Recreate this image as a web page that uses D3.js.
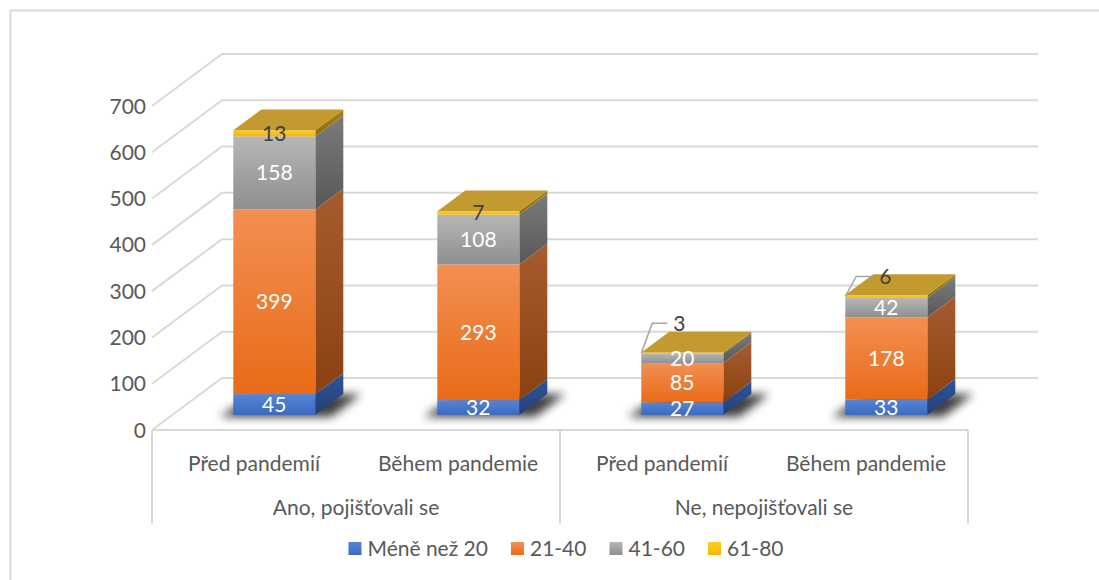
<!DOCTYPE html>
<html>
<head>
<meta charset="utf-8">
<script src="https://cdn.jsdelivr.net/npm/d3@7"></script>
<style>
    body { margin: 0; background: #fff; }
    svg { display: block; font-family: Lato, "Noto Sans", sans-serif; }
</style>
</head>
<body>
<div class="chart"></div>
<script>
// data
const categories = ["Před pandemií", "Během pandemie", "Před pandemií", "Během pandemie"];
const groups = ["Ano, pojišťovali se", "Ne, nepojišťovali se"];
const seriesNames = ["Méně než 20", "21-40", "41-60", "61-80"];
const under20 = [45, 32, 27, 33];
const age21to40 = [399, 293, 85, 178];
const age41to60 = [158, 108, 20, 42];
const age61to80 = [13, 7, 3, 6];
const yTicks = [0, 100, 200, 300, 400, 500, 600, 700];

const widthMax = 1099;
const heightMax = 580;

// 3d look
const DX = 70, DY = 52;      // floor depth offset
const F1 = 0.29, F2 = 0.69;  // bar front / back depth
const fontSize = 21;

const colors = [
    { front: ["#5585d8", "#3c69bd"], side: ["#30559a", "#243f76"] },
    { front: ["#f38f52", "#e86b18"], side: ["#a65c2e", "#8b4112"] },
    { front: ["#b6b6b6", "#8f8f8f"], side: ["#7b7b7b", "#585858"] },
    { front: ["#ffca2a", "#f5b800"], side: ["#a88412", "#8e6c08"] },
];
const topColor = "#c39a2f";

const table = categories.map((c, i) => ({
    idx: i,
    s0: under20[i], s1: age21to40[i], s2: age41to60[i], s3: age61to80[i]
}));
const stacked = d3.stack().keys(["s0", "s1", "s2", "s3"])(table);

const y = d3.scaleLinear().domain([0, 700]).range([430, 106]);
const x = d3.scaleBand().domain(d3.range(categories.length))
            .range([152, 968]).paddingInner(0.598).paddingOuter(0.299);
const bw = x.bandwidth();

function pt(xf, v, f) {
    return [xf + f * DX, y(v) - f * DY];
}
function poly(pts) {
    return pts.map(p => p[0] + "," + p[1]).join(" ");
}

const svg = d3.select(".chart").append("svg")
    .attr("width", widthMax)
    .attr("height", heightMax);

const defs = svg.append("defs");
colors.forEach((c, i) => {
    ["front", "side"].forEach(k => {
        const g = defs.append("linearGradient")
            .attr("id", k + i)
            .attr("x1", 0).attr("y1", 0).attr("x2", 0).attr("y2", 1);
        g.append("stop").attr("offset", "0%").attr("stop-color", c[k][0]);
        g.append("stop").attr("offset", "100%").attr("stop-color", c[k][1]);
    });
});
defs.append("filter").attr("id", "blur")
    .attr("x", "-50%").attr("y", "-100%").attr("width", "200%").attr("height", "300%")
    .append("feGaussianBlur").attr("stdDeviation", 5);

// outer border
svg.append("rect")
    .attr("x", 10.5).attr("y", 10.5)
    .attr("width", widthMax).attr("height", heightMax)
    .attr("fill", "none").attr("stroke", "#d9d9d9").attr("stroke-width", 2);

// gridlines (left wall + back wall)
svg.append("g").selectAll("path")
    .data(yTicks)
    .enter().append("path")
    .attr("d", t => {
        const a = pt(152, t, 0), b = pt(152, t, 1);
        return "M" + a + "L" + b + "L1038," + b[1];
    })
    .attr("fill", "none")
    .attr("stroke", "#d9d9d9")
    .attr("stroke-width", 2);

// y tick labels
svg.append("g").selectAll("text")
    .data(yTicks)
    .enter().append("text")
    .attr("x", 146)
    .attr("y", t => y(t))
    .attr("dy", "0.36em")
    .attr("text-anchor", "end")
    .attr("fill", "#595959")
    .style("font-size", fontSize + "px")
    .text(t => t);

// category axis box
const axisG = svg.append("g").attr("stroke", "#d9d9d9").attr("stroke-width", 2).attr("fill", "none");
axisG.append("path").attr("d", "M152,430L968,430");
[152, 560, 968].forEach(xx => {
    axisG.append("path").attr("d", "M" + xx + ",430L" + xx + ",524");
});

svg.append("g").selectAll("text")
    .data(categories)
    .enter().append("text")
    .attr("x", (d, i) => x(i) + bw / 2)
    .attr("y", 471)
    .attr("text-anchor", "middle")
    .attr("fill", "#595959")
    .style("font-size", fontSize + "px")
    .text(d => d);

svg.append("g").selectAll("text")
    .data(groups)
    .enter().append("text")
    .attr("x", (d, i) => (x(i * 2) + x(i * 2 + 1) + bw) / 2)
    .attr("y", 515)
    .attr("text-anchor", "middle")
    .attr("fill", "#595959")
    .style("font-size", fontSize + "px")
    .text(d => d);

// bars
const barsG = svg.append("g");
table.forEach((row, i) => {
    const xl = x(i), xr = x(i) + bw;
    const g = barsG.append("g");
    // shadow on floor
    g.append("polygon")
        .attr("points", poly([
            [xl - 14 + F1 * DX, y(0) - F1 * DY + 2],
            [xr + 16 + F1 * DX, y(0) - F1 * DY + 2],
            [xr + 18 + F2 * DX, y(0) - F2 * DY],
            [xl - 6 + F2 * DX, y(0) - F2 * DY]
        ]))
        .attr("fill", "#000")
        .attr("opacity", 0.75)
        .attr("filter", "url(#blur)");

    stacked.forEach((s, k) => {
        const v0 = s[i][0], v1 = s[i][1];
        // side face
        g.append("polygon")
            .attr("points", poly([pt(xr, v0, F1), pt(xr, v0, F2), pt(xr, v1, F2), pt(xr, v1, F1)]))
            .attr("fill", "url(#side" + k + ")");
        // front face
        g.append("rect")
            .attr("x", xl + F1 * DX)
            .attr("y", y(v1) - F1 * DY)
            .attr("width", bw)
            .attr("height", y(v0) - y(v1))
            .attr("fill", "url(#front" + k + ")");
    });
    const tot = stacked[stacked.length - 1][i][1];
    g.append("polygon")
        .attr("points", poly([pt(xl, tot, F1), pt(xr, tot, F1), pt(xr, tot, F2), pt(xl, tot, F2)]))
        .attr("fill", topColor);
});

// data labels
const labelShift = { "3-2": [38, -30], "3-3": [40, -20] }; // series-bar : leader offset
const labelsG = svg.append("g").style("font-size", fontSize + "px");
stacked.forEach((s, k) => {
    s.forEach((d, i) => {
        const val = d[1] - d[0];
        let lx = x(i) + F1 * DX + bw / 2;
        let ly = (y(d[0]) + y(d[1])) / 2 - F1 * DY;
        const sh = labelShift[k + "-" + i];
        if (sh) {
            const sx = x(i) + F1 * DX, sy = ly;
            lx = sx + sh[0];
            ly = sy + sh[1];
            labelsG.append("path")
                .attr("d", "M" + sx + "," + sy + "L" + (sx + 11) + "," + ly + "L" + (lx - 12) + "," + ly)
                .attr("fill", "none")
                .attr("stroke", "#a6a6a6")
                .attr("stroke-width", 1.5);
        }
        labelsG.append("text")
            .attr("x", lx)
            .attr("y", ly)
            .attr("dy", "0.36em")
            .attr("text-anchor", "middle")
            .attr("fill", k === 3 ? "#404040" : "#ffffff")
            .text(val);
    });
});

// legend
const legendG = svg.append("g").style("font-size", fontSize + "px");
let lxPos = 0;
const items = [];
seriesNames.forEach((name, k) => {
    const it = legendG.append("g").attr("transform", "translate(" + lxPos + ",0)");
    it.append("rect").attr("x", 0).attr("y", 542).attr("width", 13).attr("height", 13)
        .attr("fill", "url(#front" + k + ")");
    const t = it.append("text").attr("x", 19).attr("y", 548).attr("dy", "0.36em")
        .attr("fill", "#595959").text(name);
    lxPos += 19 + t.node().getComputedTextLength() + 23;
});
const legendW = lxPos - 23;
legendG.attr("transform", "translate(" + (566 - legendW / 2) + ",0)");
</script>
</body>
</html>
